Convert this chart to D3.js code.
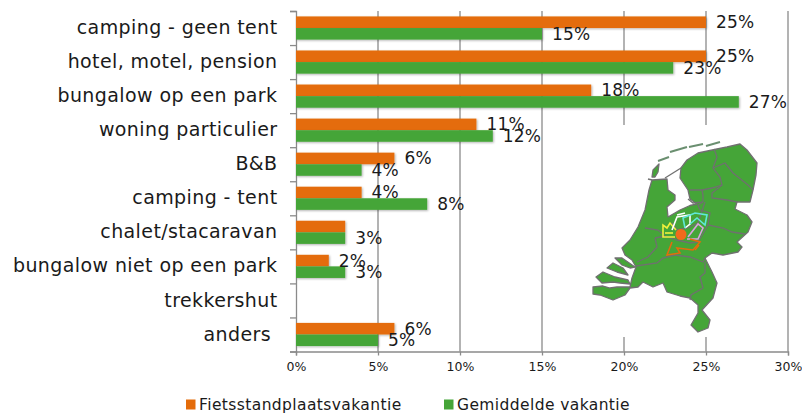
<!DOCTYPE html>
<html>
<head>
<meta charset="utf-8">
<script src="https://d3js.org/d3.v7.min.js"></script>
<style>
  html, body { margin: 0; background: #fff; }
  text { font-family: "DejaVu Sans", sans-serif; fill: #1a1a1a; }
</style>
</head>
<body>
<div id="chart"></div>
<script>
const categories = ["camping - geen tent", "hotel, motel, pension", "bungalow op een park",
  "woning particulier", "B&B", "camping - tent", "chalet/stacaravan",
  "bungalow niet op een park", "trekkershut", "anders "];
const seriesNames = ["Fietsstandplaatsvakantie", "Gemiddelde vakantie"];
const fietsValues = [25, 25, 18, 11, 6, 4, 3, 2, null, 6];
const gemiddeldValues = [15, 23, 27, 12, 4, 8, 3, 3, null, 5];
const xTicks = [0, 5, 10, 15, 20, 25, 30];
const seriesColors = ["#e46c0a", "#45a538"];
// the chalet row only shows one label in the original
const hiddenFietsLabels = ["chalet/stacaravan"];

// inset map in page pixels
const mapLand = [
  [[652,180],[667,179],[668,190],[675,195],[675,200],[667,207],[668,217],[680,210],[690,205.5],[697,204],[690,199],[688,190],[680,178],[681,168],[687,160],[698,153],[717,149],[727,147],[740,144],[747,150],[757,163],[756,175],[753,190],[750,202],[737,202],[735,209],[747,215],[752,222],[748,232],[737,242],[742,247],[738,252],[723,255],[712,253],[705,258],[712,272],[717,283],[713,298],[702,310],[710,320],[708,328],[698,332],[691,325],[698,313],[698,305],[690,298],[680,296],[667,292],[663,283],[653,287],[643,282],[638,287],[630,288],[625,295],[613,300],[600,295],[593,294],[593,287],[603,286],[610,288],[617,287],[630,287],[632,278],[636,267],[632,260],[625,255],[622,248],[630,240],[638,227],[645,210],[649,190]],
  [[596,277],[603,272],[615,277],[628,280],[630,284],[620,283],[613,282],[602,283]],
  [[607,268],[613,263],[623,268],[628,275],[617,272]],
  [[615,258],[622,258],[635,267],[630,268],[622,265]],
  [[652,177],[653,170],[659,164],[658,172],[655,177]]
];
const mapIslands = [
  [[658,161],[669,157]],
  [[670,152],[687,147]],
  [[689,147],[703,144]],
  [[706,146],[720,142]]
];
const mapBorders = [
  [[665,178],[681,168]],
  [[648,179],[652,180]],
  [[714,149],[717,157],[713,168],[720,177],[722,185],[712,188],[702,190]],
  [[713,168],[725,163],[733,173],[748,185],[753,190]],
  [[722,185],[712,193],[712,198],[727,200],[737,202]],
  [[690,190],[702,190],[703,195],[703,202],[693,203],[688,199]],
  [[703,202],[698,205],[700,210],[710,213],[708,225],[723,228],[732,232],[745,234]],
  [[645,228],[658,230],[665,236],[677,240],[690,243],[698,242],[708,225]],
  [[655,238],[665,236]],
  [[655,238],[657,247],[648,257],[637,262]],
  [[636,266],[657,263],[663,258],[675,255],[690,257],[703,262],[705,258]],
  [[705,262],[705,273],[700,277],[703,288],[691,295],[690,300]],
  [[672,223],[677,230],[687,228],[698,223],[705,202]]
];
const mapRoutes = [
  {color: "#f0f03c", points: [[676,230],[670,223],[667,228],[663,225],[663,237],[675,237]]},
  {color: "#f0f03c", points: [[665,233],[673,233]]},
  {color: "#ffffff", points: [[672,230],[677,217],[690,215],[690,224],[685,228]]},
  {color: "#ffffff", points: [[677,215],[685,213]]},
  {color: "#5fe8d8", points: [[685,228],[683,218],[695,213],[707,215],[705,225],[697,218],[690,224]]},
  {color: "#d9a4e0", points: [[688,237],[698,224],[703,228],[698,239],[687,239]]},
  {color: "#e46c0a", points: [[672,242],[667,255],[680,253],[677,248],[693,250],[700,242],[690,239]]},
  {color: "#e46c0a", points: [[695,250],[699,245]]}
];
const mapDot = [681, 234.5];

const width = 802, height = 413;
const plotLeft = 296, plotRight = 788, plotTop = 11, plotBottom = 351.5;

const svg = d3.select("#chart").append("svg")
  .attr("width", width)
  .attr("height", height)
  .style("display", "block");

const defs = svg.append("defs");
const shadow = defs.append("filter")
  .attr("id", "shadow")
  .attr("x", "-5%").attr("y", "-20%").attr("width", "115%").attr("height", "150%");
shadow.append("feDropShadow")
  .attr("dx", 1).attr("dy", 1).attr("stdDeviation", 0.8)
  .attr("flood-color", "#000").attr("flood-opacity", 0.3);
// the map is a soft pasted image in the original
defs.append("filter").attr("id", "soft")
  .append("feGaussianBlur").attr("stdDeviation", 0.3);

const x = d3.scaleLinear().domain([0, 30]).range([plotLeft, plotRight]);
const y = d3.scaleBand().domain(categories).range([plotTop, plotBottom]).paddingInner(0.32).paddingOuter(0.16);
const ySeries = d3.scaleBand().domain(seriesNames).range([0, y.bandwidth()]);
const yTicks = d3.scaleLinear().domain([0, categories.length]).range([plotTop, plotBottom]);

// vertical gridlines
svg.append("g")
  .selectAll("line")
  .data(xTicks.slice(1))
  .join("line")
  .attr("x1", d => x(d)).attr("x2", d => x(d))
  .attr("y1", plotTop).attr("y2", plotBottom)
  .attr("stroke", "#8a8a8a")
  .attr("stroke-width", 1.3);

// bottom axis
const xAxis = svg.append("g")
  .attr("transform", `translate(0,${plotBottom})`)
  .call(d3.axisBottom(x).tickValues(xTicks).tickFormat(d => d + "%").tickSize(4).tickPadding(7));
xAxis.select(".domain").attr("stroke", "#8a8a8a").attr("stroke-width", 1.3);
xAxis.selectAll(".tick line").attr("stroke", "#8a8a8a").attr("stroke-width", 1.3);
xAxis.selectAll("text").style("font-size", "12.5px").style("font-family", "'DejaVu Sans'").attr("fill", "#1a1a1a");

// left axis, ticks sit between the categories
const yAxis = svg.append("g")
  .attr("transform", `translate(${plotLeft},0)`)
  .call(d3.axisLeft(yTicks).ticks(categories.length).tickFormat("").tickSize(6));
yAxis.select(".domain").attr("stroke", "#8a8a8a").attr("stroke-width", 1.3);
yAxis.selectAll(".tick line").attr("stroke", "#8a8a8a").attr("stroke-width", 1.3);

svg.append("g")
  .selectAll("text")
  .data(categories)
  .join("text")
  .attr("x", 277.5)
  .attr("y", d => y(d) + y.bandwidth() / 2)
  .attr("dy", "0.32em")
  .attr("text-anchor", "end")
  .style("white-space", "pre")
  .style("font-size", "19px")
  .style("letter-spacing", "0.4px")
  .text(d => d);

const rows = [
  {name: seriesNames[0], values: fietsValues, color: seriesColors[0], hidden: hiddenFietsLabels},
  {name: seriesNames[1], values: gemiddeldValues, color: seriesColors[1], hidden: []}
];

rows.forEach(row => {
  const data = categories
    .map((c, i) => ({category: c, value: row.values[i]}))
    .filter(d => d.value !== null);

  svg.append("g")
    .selectAll("rect")
    .data(data)
    .join("rect")
    .attr("x", plotLeft)
    .attr("y", d => y(d.category) + ySeries(row.name))
    .attr("width", d => x(d.value) - plotLeft)
    .attr("height", ySeries.bandwidth())
    .attr("fill", row.color)
    .attr("filter", "url(#shadow)");
});

// inset map on its white background
svg.append("rect")
  .attr("x", 590).attr("y", 125).attr("width", 185).attr("height", 212)
  .attr("fill", "#fff");

const mapLine = d3.line();
const map = svg.append("g").attr("filter", "url(#soft)");
map.selectAll(".land").data(mapLand).join("path")
  .attr("class", "land")
  .attr("d", d => mapLine(d) + "Z")
  .attr("fill", seriesColors[1])
  .attr("stroke", "#707070")
  .attr("stroke-width", 1.3)
  .attr("stroke-linejoin", "round");
map.selectAll(".border").data(mapBorders).join("path")
  .attr("class", "border")
  .attr("d", mapLine)
  .attr("fill", "none")
  .attr("stroke", "#707070")
  .attr("stroke-width", 1.3);
map.selectAll(".island").data(mapIslands).join("path")
  .attr("class", "island")
  .attr("d", mapLine)
  .attr("fill", "none")
  .attr("stroke", "#6b8f70")
  .attr("stroke-width", 2);
map.selectAll(".route").data(mapRoutes).join("path")
  .attr("class", "route")
  .attr("d", d => mapLine(d.points))
  .attr("fill", "none")
  .attr("stroke", d => d.color)
  .attr("stroke-width", 1.6);
map.append("circle")
  .attr("cx", mapDot[0]).attr("cy", mapDot[1]).attr("r", 5.5)
  .attr("fill", "#f26a1b");

// value labels go over the map background
rows.forEach(row => {
  const data = categories
    .map((c, i) => ({category: c, value: row.values[i]}))
    .filter(d => d.value !== null && !row.hidden.includes(d.category));

  svg.append("g")
    .selectAll("text")
    .data(data)
    .join("text")
    .attr("x", d => x(d.value) + 10)
    .attr("y", d => y(d.category) + ySeries(row.name) + ySeries.bandwidth() / 2)
    .attr("dy", "0.35em")
    .style("font-size", "17px")
    .style("letter-spacing", "0.2px")
    .text(d => d.value + "%");
});

// legend
const legendX = [186, 444];
const legend = svg.append("g")
  .selectAll("g")
  .data(seriesNames)
  .join("g")
  .attr("transform", (d, i) => `translate(${legendX[i]},399.5)`);
legend.append("rect")
  .attr("width", 9.5).attr("height", 10)
  .attr("fill", (d, i) => seriesColors[i]);
legend.append("text")
  .attr("x", 13).attr("y", 10)
  .style("font-size", "15.5px")
  .style("letter-spacing", "0.4px")
  .text(d => d);
</script>
</body>
</html>
